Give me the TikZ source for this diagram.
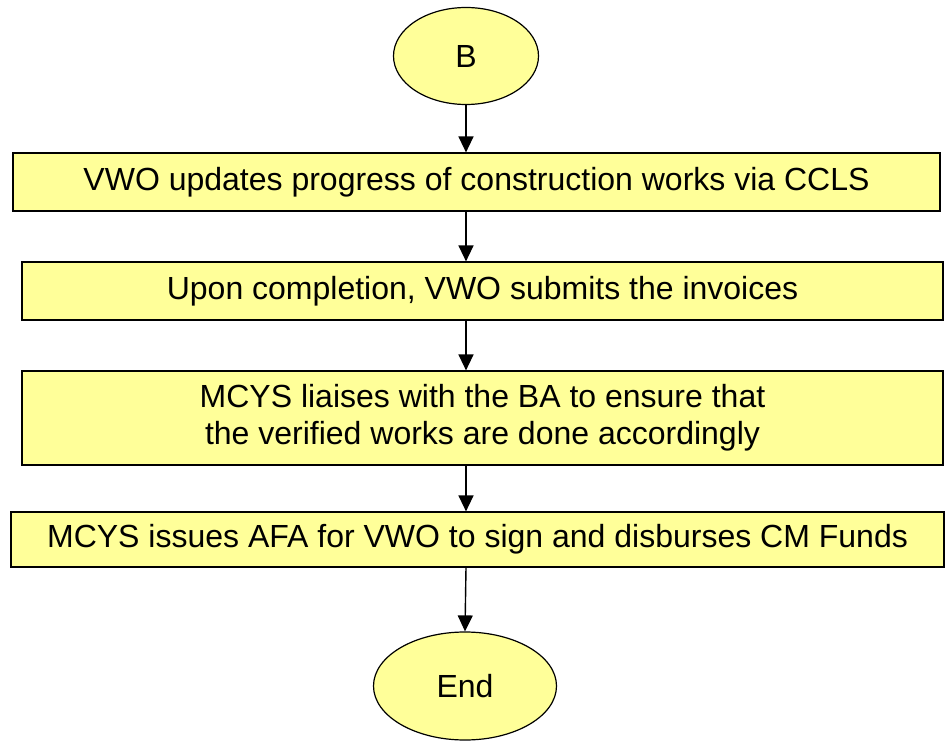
\documentclass[tikz,border=0pt]{standalone}
\usepackage{fontspec}
\setmainfont{Liberation Sans}
\usetikzlibrary{shapes.geometric, arrows.meta}

\definecolor{boxyellow}{RGB}{255,255,153}

\begin{document}
\begin{tikzpicture}[x=1pt, y=-1pt,
    term/.style={ellipse, draw, fill=boxyellow, line width=1.2pt, inner sep=0pt, font=\fontsize{32}{37}\selectfont},
    task/.style={rectangle, draw, fill=boxyellow, line width=1.2pt, inner sep=0pt, align=center, font=\fontsize{32}{37}\selectfont},
    arr/.style={line width=1.4pt, -{Triangle[width=15pt, length=16pt]}}]
    \useasboundingbox (0, 0) rectangle (945, 743);
    \node[term, minimum width=145pt, minimum height=97pt] (b) at (466, 56) {B};
    \node[task, minimum width=927pt, minimum height=58pt] (s1) at (476.5, 182) {VWO updates progress of construction works via CCLS};
    \node[task, minimum width=921pt, minimum height=58pt] (s2) at (482.5, 291) {Upon completion, VWO submits the invoices};
    \node[task, minimum width=921pt, minimum height=94pt] (s3) at (482.5, 418) {MCYS liaises with the BA to ensure that\\the verified works are done accordingly};
    \node[task, minimum width=933pt, minimum height=55pt] (s4) at (477.5, 539.5) {MCYS issues AFA for VWO to sign and disburses CM Funds};
    \node[term, minimum width=183pt, minimum height=108pt] (e) at (465, 686) {End};
    \draw[arr] (b.south) -- (b.south |- s1.north);
    \draw[arr] (b.south |- s1.south) -- (b.south |- s2.north);
    \draw[arr] (b.south |- s2.south) -- (b.south |- s3.north);
    \draw[arr] (b.south |- s3.south) -- (b.south |- s4.north);
    \draw[arr] (b.south |- s4.south) -- (e.north);
\end{tikzpicture}
\end{document}
